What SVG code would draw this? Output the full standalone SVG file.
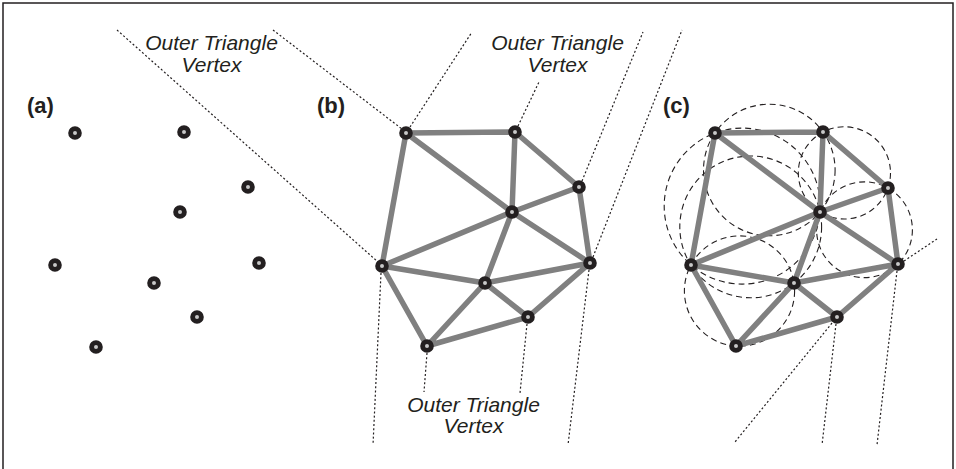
<svg xmlns="http://www.w3.org/2000/svg" width="956" height="469" viewBox="0 0 956 469">
<style>
.frame{fill:none;stroke:#231f20;stroke-width:1.5}
.edge{stroke:#808080;stroke-width:5.5;stroke-linecap:round;fill:none}
.node{fill:#c8c8c8;stroke:#231f20;stroke-width:4.8}
.dot{stroke:#231f20;stroke-width:1.2;stroke-dasharray:2 2.2;fill:none}
.circ{stroke:#231f20;stroke-width:1.1;stroke-dasharray:6 4;fill:none}
.lbl{font-family:"Liberation Sans",Arial,sans-serif;font-style:italic;font-size:21px;fill:#231f20;text-anchor:middle}
.pl{font-family:"Liberation Sans",Arial,sans-serif;font-weight:bold;font-size:22px;fill:#231f20}
</style>
<rect width="956" height="469" fill="#fff"/>
<path class="frame" d="M3,469 V3 H953 V469"/>

<g id="panel-labels">
<text class="pl" x="27" y="113">(a)</text>
<text class="pl" x="317" y="113">(b)</text>
<text class="pl" x="663" y="113">(c)</text>
</g>

<g id="vertex-labels">
<text class="lbl" x="211.5" y="50">Outer Triangle</text>
<text class="lbl" x="211.5" y="72">Vertex</text>
<text class="lbl" x="557.5" y="50">Outer Triangle</text>
<text class="lbl" x="557.5" y="72">Vertex</text>
<text class="lbl" x="473.5" y="412">Outer Triangle</text>
<text class="lbl" x="473.5" y="433">Vertex</text>
</g>

<g id="circles-c">
<circle class="circ" cx="769.3" cy="170.0" r="65.8"/>
<circle class="circ" cx="742.2" cy="206.1" r="78.0"/>
<circle class="circ" cx="844.4" cy="172.9" r="46.1"/>
<circle class="circ" cx="864.5" cy="229.75" r="47.9"/>
<circle class="circ" cx="750.7" cy="226.9" r="70.9"/>
<circle class="circ" cx="739.5" cy="291.0" r="55.1"/>
</g>

<g id="connectors">
<g id="dotted-b">
<line class="dot" x1="117" y1="30" x2="378" y2="262"/>
<line class="dot" x1="273" y1="30" x2="402" y2="129"/>
<line class="dot" x1="410" y1="127" x2="472" y2="32"/>
<line class="dot" x1="518" y1="126" x2="539" y2="82"/>
<line class="dot" x1="582" y1="181" x2="643" y2="32"/>
<line class="dot" x1="593" y1="257" x2="682" y2="30"/>
<line class="dot" x1="589" y1="270" x2="568" y2="445"/>
<line class="dot" x1="381" y1="273" x2="373" y2="445"/>
<line class="dot" x1="427" y1="353" x2="424" y2="392"/>
<line class="dot" x1="527" y1="324" x2="520" y2="393"/>
</g>
<g id="dotted-c">
<line class="dot" x1="904" y1="261" x2="937" y2="239"/>
<line class="dot" x1="897" y1="271" x2="877" y2="445"/>
<line class="dot" x1="836" y1="324" x2="822" y2="445"/>
<line class="dot" x1="832" y1="323" x2="735" y2="442"/>
</g>
<g id="edges-b">
<path class="edge" d="M406,133 L515,132 M406,133 L512,212 M406,133 L382,266 M515,132 L512,212 M515,132 L579,187 M579,187 L512,212 M579,187 L590,263 M512,212 L382,266 M512,212 L485,283 M512,212 L590,263 M382,266 L485,283 M382,266 L427,346 M485,283 L427,346 M485,283 L528,317 M485,283 L590,263 M590,263 L528,317 M528,317 L427,346"/>
</g>
<g id="edges-c">
<path class="edge" d="M715,133 L823,132 M715,133 L820,212 M715,133 L691,265 M823,132 L820,212 M823,132 L888,188 M888,188 L820,212 M888,188 L898,264 M820,212 L691,265 M820,212 L794,283 M820,212 L898,264 M691,265 L794,283 M691,265 L736,346 M794,283 L736,346 M794,283 L837,317 M794,283 L898,264 M898,264 L837,317 M837,317 L736,346"/>
</g>
</g>

<g id="nodes-a">
<g id="a1"><circle class="node" cx="75" cy="133" r="4.4"/></g>
<g id="a2"><circle class="node" cx="184" cy="132" r="4.4"/></g>
<g id="a3"><circle class="node" cx="248" cy="187" r="4.4"/></g>
<g id="a4"><circle class="node" cx="180" cy="212" r="4.4"/></g>
<g id="a5"><circle class="node" cx="55" cy="265" r="4.4"/></g>
<g id="a6"><circle class="node" cx="259" cy="263" r="4.4"/></g>
<g id="a7"><circle class="node" cx="154" cy="283" r="4.4"/></g>
<g id="a8"><circle class="node" cx="197" cy="317" r="4.4"/></g>
<g id="a9"><circle class="node" cx="96" cy="347" r="4.4"/></g>
</g>
<g id="nodes-b">
<g id="b1"><circle class="node" cx="406" cy="133" r="4.4"/></g>
<g id="b2"><circle class="node" cx="515" cy="132" r="4.4"/></g>
<g id="b3"><circle class="node" cx="579" cy="187" r="4.4"/></g>
<g id="b4"><circle class="node" cx="512" cy="212" r="4.4"/></g>
<g id="b5"><circle class="node" cx="382" cy="266" r="4.4"/></g>
<g id="b6"><circle class="node" cx="590" cy="263" r="4.4"/></g>
<g id="b7"><circle class="node" cx="485" cy="283" r="4.4"/></g>
<g id="b8"><circle class="node" cx="528" cy="317" r="4.4"/></g>
<g id="b9"><circle class="node" cx="427" cy="346" r="4.4"/></g>
</g>
<g id="nodes-c">
<g id="c1"><circle class="node" cx="715" cy="133" r="4.4"/></g>
<g id="c2"><circle class="node" cx="823" cy="132" r="4.4"/></g>
<g id="c3"><circle class="node" cx="888" cy="188" r="4.4"/></g>
<g id="c4"><circle class="node" cx="820" cy="212" r="4.4"/></g>
<g id="c5"><circle class="node" cx="691" cy="265" r="4.4"/></g>
<g id="c6"><circle class="node" cx="898" cy="264" r="4.4"/></g>
<g id="c7"><circle class="node" cx="794" cy="283" r="4.4"/></g>
<g id="c8"><circle class="node" cx="837" cy="317" r="4.4"/></g>
<g id="c9"><circle class="node" cx="736" cy="346" r="4.4"/></g>
</g>
</svg>
